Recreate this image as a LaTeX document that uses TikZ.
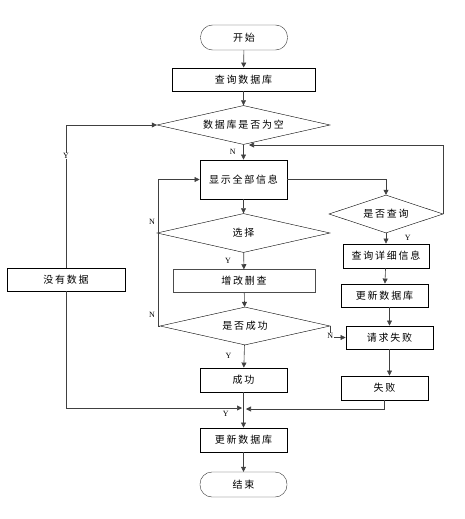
\documentclass[tikz,border=0pt]{standalone}
\usepackage{fontspec}
\setmainfont{Noto Sans CJK SC}[LetterSpace=18]
\newfontfamily\latinfont{Liberation Serif}
\usetikzlibrary{positioning,shapes.geometric,arrows.meta,calc}

\begin{document}
\begin{tikzpicture}[x=1pt, y=-1pt, font=\fontsize{10}{12}\selectfont,
  every node/.style={align=center, inner sep=0pt},
  term/.style={draw=black!80, rounded corners=12pt, minimum width=87pt, minimum height=25pt},
  proc/.style={draw, line width=0.9pt, minimum width=87pt, minimum height=24pt},
  cond/.style={draw, diamond, aspect=4.5, minimum width=173pt, minimum height=39pt},
  flow/.style={-{Triangle[length=5pt,width=5pt]}, draw=black!75, line width=0.6pt},
  yn/.style={font=\latinfont\fontsize{8}{9}\selectfont, fill=white, inner sep=0.5pt}]
  \useasboundingbox (0,0) rectangle (464,519);

  % main column
  \node[term] (start) at (244,37.5) {开始};
  \node[proc, minimum width=143pt, minimum height=23pt] (query) at (243.5,79.5) {查询数据库};
  \node[cond] (empty) at (243.5,125) {数据库是否为空};
  \node[proc, minimum height=39pt] (show) at (243.5,179.5) {显示全部信息};
  \node[cond] (choose) at (243.5,233) {选择};
  \node[draw, draw=black!70, line width=0.5pt, minimum width=142pt,
        minimum height=23pt] (crud) at (244,281) {增改删查};
  \node[cond, minimum width=170pt, minimum height=38pt] (success) at (245,326) {是否成功};
  \node[proc] (ok) at (243.5,380) {成功};
  \node[proc] (update) at (243.5,440) {更新数据库};
  \node[term] (stop) at (243.5,484.5) {结束};

  % right column
  \node[cond, minimum width=114pt, minimum height=38pt] (ask) at (386,214) {是否查询};
  \node[proc, minimum width=86pt] (detail) at (386,256) {查询详细信息};
  \node[proc, minimum height=23pt] (update2) at (384.5,295.5) {更新数据库};
  \node[proc, minimum height=23pt] (request) at (389.5,337.5) {请求失败};
  \node[proc] (failed) at (384.5,388) {失败};

  % left column
  \node[proc, minimum width=118pt, minimum height=23pt] (nodata) at (66,279.5) {没有数据};

  \coordinate (back) at (249,145);
  \coordinate (loop) at (158,326);
  \coordinate (joinL) at (242,408);
  \coordinate (joinR) at (246,409);

  \draw[flow] (start) -- (query);
  \draw[flow] (query) -- (empty);
  \draw[flow] (empty) -- (show) node[yn, pos=0.5, left=7pt] {N};
  \draw[flow] (nodata.north) |- (empty.west) node[yn, pos=0.39] {Y};
  \draw[flow] (nodata.south) |- (joinL);

  \draw[flow] (show.east) -| (ask.north);
  \draw[flow] (ask.east) |- (back);
  \draw[flow] (ask) -- (detail) node[yn, pos=0.5, right=18pt] {Y};
  \draw[flow] (detail) -- (update2);
  \draw[flow] (update2.south -| request) -- (request.north);
  \draw[flow] (request.south) -- (request.south |- failed.north);
  \draw[flow] (failed.south) |- (joinR);

  \draw[flow] (show) -- (choose);
  \draw[flow] (choose) -- (crud) node[yn, pos=0.5, left=12pt] {Y};
  \draw[flow] (crud) -- (success);
  \draw[flow] (success.west) -- (loop) |- (show.west);
  \node[yn] (nchoose) at (152,222) {N};
  \node[yn] (nsuccess) at (152,315) {N};
  \draw[flow] (success.east) |- (request.west) node[yn, pos=0.45] {N};
  \draw[flow] (success) -- (ok) node[yn, pos=0.5, left=12pt] {Y};

  \draw[flow] (ok) -- (update) node[yn, pos=0.6, left=14pt] {Y};
  \draw[flow] (update) -- (stop);
\end{tikzpicture}
\end{document}
